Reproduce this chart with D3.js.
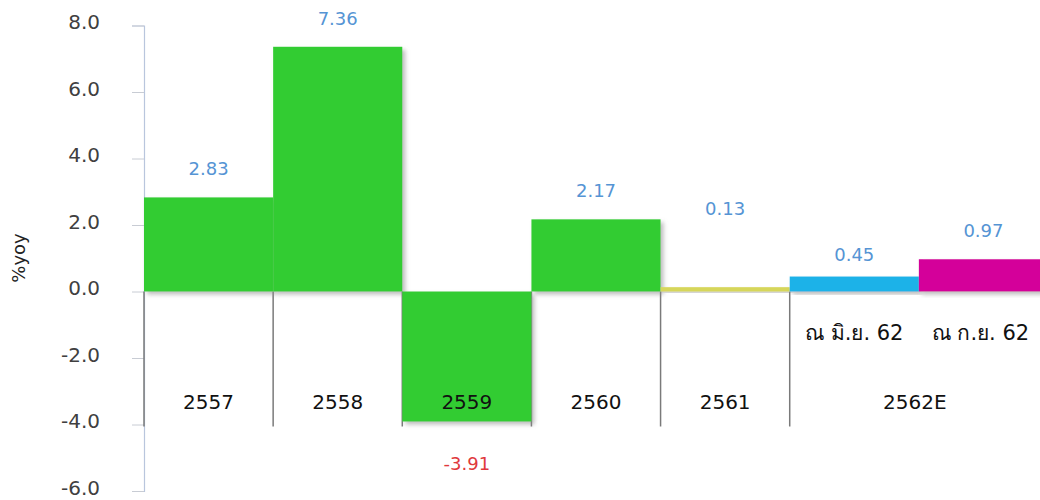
<!DOCTYPE html>
<html><head><meta charset="utf-8">
<script src="https://cdn.jsdelivr.net/npm/d3@7"></script>
<style>body{margin:0;background:#fff}svg{display:block}text{font-family:Tahoma,"DejaVu Sans","Noto Sans",sans-serif}</style>
</head><body><svg id="c" width="1040" height="500"></svg>
<script>
const barKeys = ["2557","2558","2559","2560","2561","2562E-jun","2562E-sep"];
const barValues = [2.83, 7.36, -3.91, 2.17, 0.13, 0.45, 0.97];
const valueLabels = ["2.83","7.36","-3.91","2.17","0.13","0.45","0.97"];
const barColors = ["#33cc33","#33cc33","#33cc33","#33cc33","#d6d65a","#1ab2e8","#d4009a"];
const categories = ["2557","2558","2559","2560","2561","2562E"];
const categorySpans = [[0,0],[1,1],[2,2],[3,3],[4,4],[5,6]];
const subLabels = [null,null,null,null,null,"ณ มิ.ย. 62","ณ ก.ย. 62"];
const yTicks = [8,6,4,2,0,-2,-4,-6];

// layout only: extra lift of individual value labels (px)
const labelLift = [0,0,0,0,50,-6,0];

const svg = d3.select("#c");
const y = d3.scaleLinear().domain([-6, 8]).range([491, 25.5]);
const x = d3.scaleBand().domain(barKeys).range([144, 1048]).padding(0);

const defs = svg.append("defs");
const f = defs.append("filter").attr("id","sh").attr("x","-10%").attr("y","-10%").attr("width","130%").attr("height","130%");
f.append("feDropShadow").attr("dx",3).attr("dy",3).attr("stdDeviation",2).attr("flood-color","#888").attr("flood-opacity",0.55);

// y axis
const yAxis = d3.axisLeft(y).tickValues(yTicks).tickFormat(d=>d.toFixed(1)).tickSize(12).tickPadding(32);
const ga = svg.append("g").attr("transform","translate(144,0)").call(yAxis);
ga.select(".domain").attr("stroke","#b9c6dd").attr("stroke-width",1.2);
ga.selectAll(".tick line").attr("stroke","#c8ccd4");
ga.selectAll(".tick text").attr("fill","#404040").attr("dy","0.15em").style("font-size","20px").style("font-family",'Tahoma,"DejaVu Sans",sans-serif');

svg.append("text").attr("transform","translate(25,258) rotate(-90)").attr("text-anchor","middle")
  .attr("fill","#222").style("font-size","18px").text("%yoy");

// category separators
const bounds = categorySpans.map(s => x(barKeys[s[0]]));
svg.append("g").selectAll("line").data(bounds).join("line")
  .attr("x1",d=>d).attr("x2",d=>d).attr("y1",y(0)).attr("y2",y(-4)+2)
  .attr("stroke","#7a7a7a").attr("stroke-width",1.5);

// bars
const bars = barKeys.map((k,i)=>({k, v:barValues[i], c:barColors[i], lab:valueLabels[i], sub:subLabels[i], lift:labelLift[i]}));
svg.append("g").selectAll("rect").data(bars).join("rect")
  .attr("x",d=>x(d.k)).attr("width",x.bandwidth())
  .attr("y",d=>y(Math.max(0,d.v))).attr("height",d=>Math.max(3, Math.abs(y(d.v)-y(0))))
  .attr("fill",d=>d.c).attr("filter","url(#sh)");

// value labels
svg.append("g").selectAll("text").data(bars).join("text")
  .attr("x",d=>x(d.k)+x.bandwidth()/2)
  .attr("y",d=>d.v>=0 ? y(d.v)-22-d.lift : y(d.v)+48)
  .attr("text-anchor","middle").style("font-size","18px")
  .attr("fill",d=>d.v>=0 ? "#5594d4" : "#e0383c")
  .text(d=>d.lab);

// sub labels
svg.append("g").selectAll("text").data(bars.filter(d=>d.sub)).join("text")
  .attr("x",(d)=>x(d.k)+x.bandwidth()/2 - (d.k==="2562E-sep"?3:0)).attr("y",340)
  .attr("text-anchor","middle").attr("fill","#111").style("font-size","21px").text(d=>d.sub);

// category labels
svg.append("g").selectAll("text").data(categories).join("text")
  .attr("x",(d,i)=>{const s=categorySpans[i]; return (x(barKeys[s[0]]) + x(barKeys[s[1]]) + x.bandwidth())/2 + (i===5?-4:0);})
  .attr("y",409).attr("text-anchor","middle").attr("fill","#111").style("font-size","20px").text(d=>d);
</script></body></html>
